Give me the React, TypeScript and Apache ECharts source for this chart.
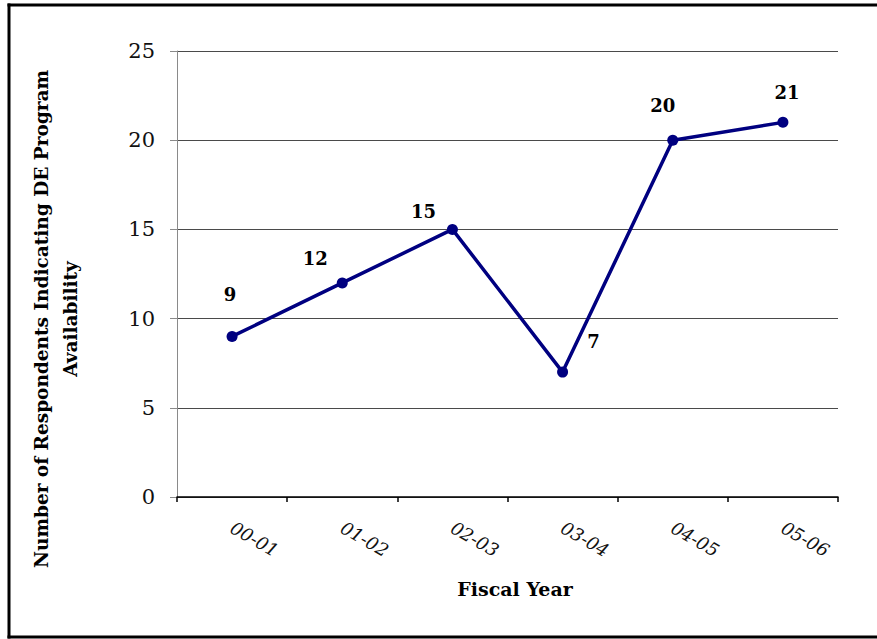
import React, { useEffect, useRef } from 'react';
import * as echarts from 'echarts';

const categories = ['00-01', '01-02', '02-03', '03-04', '04-05', '05-06'];
const values = [9, 12, 15, 7, 20, 21];
const yTicks = { min: 0, max: 25, interval: 5 };
const xTitle = 'Fiscal Year';
const yTitle = 'Number of Respondents Indicating DE Program\nAvailability';

const SERIF = '"DejaVu Serif", "Liberation Serif", serif';
// label placement (pixels from each marker centre)
const labelShift: number[][] = [[-2, -42], [-27, -24], [-29, -18], [31, -31], [-10, -35], [4, -30]];

export default function App() {
  const ref = useRef<HTMLDivElement>(null);
  useEffect(() => {
    if (!ref.current) return;
    const chart = echarts.init(ref.current, undefined, { renderer: 'svg' });
    const frame = { stroke: '#000', lineWidth: 3 };
    chart.setOption({
      animation: false,
      backgroundColor: '#ffffff',
      grid: { left: 177, right: 39, top: 51, bottom: 142 },
      xAxis: {
        type: 'category',
        data: categories,
        boundaryGap: true,
        axisLine: { show: true, lineStyle: { color: '#000', width: 1.5 } },
        axisTick: { show: true, length: 5, lineStyle: { color: '#000', width: 1.5 } },
        axisLabel: {
          rotate: -30,
          margin: 29,
          fontFamily: SERIF,
          fontStyle: 'italic',
          fontSize: 18,
          color: '#111',
        },
        splitLine: { show: false },
      },
      yAxis: {
        type: 'value',
        min: yTicks.min,
        max: yTicks.max,
        interval: yTicks.interval,
        axisLine: { show: true, lineStyle: { color: '#8a8a8a', width: 1 } },
        axisTick: { show: true, length: 7, lineStyle: { color: '#8a8a8a', width: 1 } },
        axisLabel: { margin: 22, fontFamily: SERIF, fontSize: 21, color: '#111' },
        splitLine: { show: true, lineStyle: { color: '#4a4a4a', width: 1 } },
      },
      graphic: [
        { type: 'line', shape: { x1: 7.5, y1: 5, x2: 877, y2: 5 }, style: frame, silent: true },
        { type: 'line', shape: { x1: 9, y1: 3.5, x2: 9, y2: 638.5 }, style: frame, silent: true },
        { type: 'line', shape: { x1: 7.5, y1: 637, x2: 877, y2: 637 }, style: frame, silent: true },
        {
          type: 'text',
          x: 515,
          y: 589,
          style: {
            text: xTitle,
            font: `bold 19px ${SERIF}`,
            fill: '#000',
            align: 'center',
            verticalAlign: 'middle',
          },
        },
        {
          type: 'text',
          x: 56,
          y: 319,
          rotation: Math.PI / 2,
          style: {
            text: yTitle,
            font: `bold 18.5px ${SERIF}`,
            lineHeight: 29,
            fill: '#000',
            align: 'center',
            verticalAlign: 'middle',
          },
        },
      ],
      series: [
        {
          type: 'line',
          data: values.map((v, i) => ({
            value: v,
            label: { offset: labelShift[i] },
          })),
          symbol: 'circle',
          symbolSize: 11,
          lineStyle: { color: '#000080', width: 3.5 },
          itemStyle: { color: '#000080' },
          label: {
            show: true,
            position: 'inside',
            fontFamily: SERIF,
            fontWeight: 'bold',
            fontSize: 18,
            color: '#000',
          },
        },
      ],
    });
    return () => chart.dispose();
  }, []);
  return <div ref={ref} style={{ position: 'fixed', left: 0, top: 0, width: 877, height: 639 }} />;
}
